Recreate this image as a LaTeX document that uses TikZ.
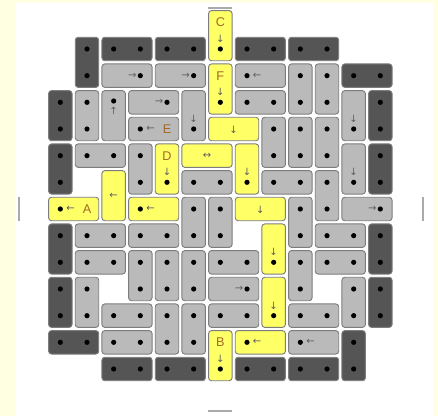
\documentclass[tikz,border=0pt]{standalone}
\usepackage{fontspec}
\setmainfont{Liberation Sans}
\newfontfamily\arrowfont{DejaVu Sans}
\usepackage{tikz}
\usetikzlibrary{positioning}
\definecolor{tiledark}{RGB}{85,85,85}
\definecolor{tilegrey}{RGB}{186,186,186}
\definecolor{tileyellow}{RGB}{255,255,102}
\definecolor{tileedge}{RGB}{125,125,125}
\definecolor{paleyellow}{RGB}{255,255,226}
\definecolor{labelbrown}{RGB}{160,105,40}
\definecolor{arrowgrey}{RGB}{95,95,95}
\definecolor{exitgrey}{RGB}{170,170,170}
\newcommand{\tilepip}[2]{\fill (#1,#2) circle (1.95pt);}

\begin{document}
\begin{tikzpicture}[
    x=20pt, y=-20pt,
    tile/.style={
        rectangle,
        rounded corners=2.2pt,
        draw=tileedge,
        line width=0.7pt,
        inner sep=0pt
    },
    htile/.style={tile, minimum width=37.6pt, minimum height=17.6pt},
    vtile/.style={tile, minimum width=17.6pt, minimum height=37.6pt},
    darktile/.style={fill=tiledark},
    greytile/.style={fill=tilegrey},
    pathtile/.style={fill=tileyellow},
    letter/.style={text=labelbrown, font=\fontsize{9.5}{11}\selectfont, inner sep=0pt},
    arr/.style={text=arrowgrey, font=\arrowfont\fontsize{7.5}{8}\selectfont, inner sep=0pt},
    exit/.style={draw=exitgrey, line width=1.5pt}
]
\fill[paleyellow] (-1.7625,-0.3375) rectangle (14.6625,15.2625);
\fill[white] (-1.1625,-0.225) rectangle (14.4735,15.2625);
\useasboundingbox (-1.7625,-0.3375) rectangle (14.6625,15.2625);

% exits
\draw[exit] (-1.05,7.05) -- (-1.05,7.95);
\draw[exit] (14.1,7.05) -- (14.1,7.95);
\draw[exit] (6.05,-0.04) -- (6.95,-0.04);
\draw[exit] (6.05,15.07) -- (6.95,15.07);

% walls
\foreach \c/\r in {2/1,4/1,7/1,9/1,11/2,0/12,2/13,4/13,7/13,9/13} {
    \node[htile, darktile] (w\c-\r) at (\c+1,\r+.5) {};
    \tilepip{\c+.5}{\r+.5}
    \tilepip{\c+1.5}{\r+.5}
}
\foreach \c/\r in {1/1,0/3,12/3,0/5,12/5,0/8,12/8,0/10,12/10,11/12} {
    \node[vtile, darktile] (w\c-\r) at (\c+.5,\r+1) {};
    \tilepip{\c+.5}{\r+.5}
    \tilepip{\c+.5}{\r+1.5}
}

% plain tiles
\foreach \c/\r in {7/3,1/5,5/6,8/6,1/8,3/8,10/8,1/9,6/9,10/9,2/11,6/11,9/11,2/12} {
    \node[htile, greytile] (t\c-\r) at (\c+1,\r+.5) {};
    \tilepip{\c+.5}{\r+.5}
    \tilepip{\c+1.5}{\r+.5}
}
\foreach \c/\r in {9/2,10/2,1/3,8/4,9/4,10/4,3/5,10/6,5/7,6/7,9/7,3/9,4/9,5/9,9/9,1/10,11/10,4/11,5/11} {
    \node[vtile, greytile] (t\c-\r) at (\c+.5,\r+1) {};
    \tilepip{\c+.5}{\r+.5}
    \tilepip{\c+.5}{\r+1.5}
}

% moving tiles
\foreach \c/\r/\f in {2/2/greytile,4/2/greytile,3/3/greytile,11/7/greytile,6/10/greytile} {
    \node[htile, \f] (t\c-\r) at (\c+1,\r+.5) {};
    \tilepip{\c+1.5}{\r+.5}
    \node[arr] (a\c-\r) at (\c+1.2,\r+.5) {→};
}
\foreach \c/\r/\f in {7/2/greytile,3/4/greytile,9/12/greytile,0/7/pathtile,3/7/pathtile,7/12/pathtile} {
    \node[htile, \f] (t\c-\r) at (\c+1,\r+.5) {};
    \tilepip{\c+.5}{\r+.5}
    \node[arr] (a\c-\r) at (\c+.88,\r+.5) {←};
}
\foreach \c/\r/\f in {5/3/greytile,11/3/greytile,11/5/greytile,7/5/pathtile,8/8/pathtile,8/10/pathtile,6/0/pathtile,6/2/pathtile,4/5/pathtile,6/12/pathtile} {
    \node[vtile, \f] (t\c-\r) at (\c+.5,\r+1) {};
    \tilepip{\c+.5}{\r+1.5}
    \node[arr] (a\c-\r) at (\c+.5,\r+1.12) {↓};
}
\node[vtile, greytile] (t2-3) at (2.5,4) {};
\tilepip{2.5}{3.45}
\node[arr] (a2-3) at (2.5,3.82) {↑};

\node[htile, pathtile] (t6-4) at (7,4.5) {};
\node[arr] (a6-4) at (7,4.55) {↓};
\node[htile, pathtile] (t5-5) at (6,5.5) {};
\node[arr] (a5-5) at (6,5.5) {↔};
\node[htile, pathtile] (t7-7) at (8,7.5) {};
\node[arr] (a7-7) at (8,7.55) {↓};
\node[vtile, pathtile] (t2-6) at (2.5,7) {};
\node[arr] (a2-6) at (2.5,7) {←};

% names
\node[letter] (A) at (1.5,7.5) {A};
\node[letter] (B) at (6.5,12.5) {B};
\node[letter] (C) at (6.5,0.5) {C};
\node[letter] (D) at (4.5,5.5) {D};
\node[letter] (E) at (4.5,4.5) {E};
\node[letter] (F) at (6.5,2.5) {F};
\end{tikzpicture}
\end{document}
